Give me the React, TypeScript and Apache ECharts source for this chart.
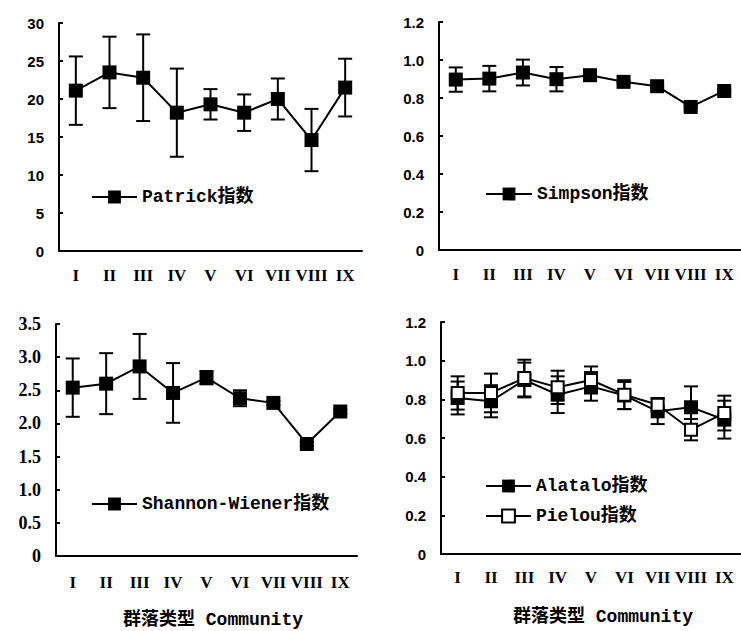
import React, { useEffect, useRef } from "react";
import * as echarts from "echarts";

const categories = ["I", "II", "III", "IV", "V", "VI", "VII", "VIII", "IX"];

const patrickMean = [21.1, 23.5, 22.8, 18.2, 19.3, 18.2, 20.0, 14.6, 21.5];
const patrickSD = [4.5, 4.7, 5.7, 5.8, 2.0, 2.4, 2.7, 4.1, 3.8];

const simpsonMean = [0.897, 0.902, 0.934, 0.899, 0.92, 0.885, 0.862, 0.753, 0.837];
const simpsonSD = [0.064, 0.067, 0.068, 0.064, 0.012, 0.008, 0.006, 0.008, 0.008];

const shannonMean = [2.54, 2.6, 2.86, 2.46, 2.69, 2.38, 2.31, 1.69, 2.18];
const shannonSD = [0.44, 0.46, 0.49, 0.45, 0.1, 0.12, 0.03, 0.03, 0.03];

const alataloMean = [0.807, 0.79, 0.9, 0.824, 0.867, 0.82, 0.738, 0.759, 0.695];
const alataloSD = [0.085, 0.083, 0.09, 0.095, 0.074, 0.07, 0.066, 0.108, 0.098];
const pielouMean = [0.833, 0.833, 0.91, 0.862, 0.9, 0.824, 0.772, 0.643, 0.729];
const pielouSD = [0.086, 0.1, 0.095, 0.086, 0.07, 0.075, 0.035, 0.055, 0.09];

const axisTitle = "群落类型 Community";

const MONO = "'Liberation Mono', 'Noto Sans CJK SC', monospace";
const SERIF = "'Liberation Serif', serif";
const SANS = "'Liberation Sans', Arial, sans-serif";

const errData = (mean: number[], sd: number[]) =>
  mean.map((m, i) => [i, m - sd[i], m + sd[i]]);

const renderErr = (params: any, api: any) => {
  const x = api.value(0);
  const lo = api.value(1);
  const hi = api.value(2);
  const pHi = api.coord([x, hi]);
  const pLo = api.coord([x, lo]);
  const cap = 7;
  const style = { stroke: "#000", lineWidth: 2 };
  return {
    type: "group",
    children: [
      { type: "line", shape: { x1: pHi[0], y1: pHi[1], x2: pLo[0], y2: pLo[1] }, style },
      { type: "line", shape: { x1: pHi[0] - cap, y1: pHi[1], x2: pHi[0] + cap, y2: pHi[1] }, style },
      { type: "line", shape: { x1: pLo[0] - cap, y1: pLo[1], x2: pLo[0] + cap, y2: pLo[1] }, style },
    ],
  };
};

const grids = [
  { left: 59, top: 23, width: 303, height: 228 },
  { left: 439, top: 22, width: 306, height: 228 },
  { left: 56, top: 324, width: 301, height: 232 },
  { left: 441, top: 322, width: 308, height: 232 },
];

const makeX = (gridIndex: number, margin: number) => ({
  type: "category",
  gridIndex,
  data: categories,
  boundaryGap: true,
  axisLine: { lineStyle: { color: "#000", width: 2 } },
  axisTick: { inside: true, length: 4, lineStyle: { color: "#000", width: 2 } },
  axisLabel: {
    color: "#000",
    fontFamily: SERIF,
    fontWeight: "bold",
    fontSize: 17,
    margin,
    interval: 0,
  },
  splitLine: { show: false },
});

const makeY = (gridIndex: number, max: number, interval: number, digits: number, font: string, size: number) => ({
  type: "value",
  gridIndex,
  min: 0,
  max,
  interval,
  axisLine: { show: true, lineStyle: { color: "#000", width: 2 } },
  axisTick: { show: true, inside: true, length: 4, lineStyle: { color: "#000", width: 2 } },
  axisLabel: {
    color: "#000",
    fontFamily: font,
    fontWeight: "bold",
    fontSize: size,
    margin: 15,
    formatter: (v: number) => (v === 0 ? "0" : v.toFixed(digits)),
  },
  splitLine: { show: false },
});

const lineSeries = (name: string, data: number[], idx: number, hollow = false) => ({
  type: "line",
  name,
  xAxisIndex: idx,
  yAxisIndex: idx,
  data,
  symbol: "rect",
  symbolSize: hollow ? 12 : 14,
  showSymbol: true,
  lineStyle: { color: "#000", width: 2 },
  itemStyle: hollow
    ? { color: "#fff", borderColor: "#000", borderWidth: 2 }
    : { color: "#000", borderColor: "#000", borderWidth: 0 },
  z: 3,
});

const errSeries = (mean: number[], sd: number[], idx: number) => ({
  type: "custom",
  xAxisIndex: idx,
  yAxisIndex: idx,
  data: errData(mean, sd),
  encode: { x: 0, y: [1, 2] },
  renderItem: renderErr,
  z: 2,
  silent: true,
});

const legendText = {
  color: "#000",
  fontFamily: MONO,
  fontWeight: "bold",
  fontSize: 18,
};

export default function App() {
  const ref = useRef<HTMLDivElement>(null);
  useEffect(() => {
    if (!ref.current) return;
    const chart = echarts.init(ref.current, undefined, { renderer: "svg" });
    chart.setOption({
      animation: false,
      backgroundColor: "#fff",
      grid: grids,
      xAxis: [makeX(0, 16), makeX(1, 16), makeX(2, 18), makeX(3, 15)],
      yAxis: [
        makeY(0, 30, 5, 0, SANS, 15),
        makeY(1, 1.2, 0.2, 1, SANS, 15),
        makeY(2, 3.5, 0.5, 1, SERIF, 18),
        makeY(3, 1.2, 0.2, 1, SANS, 15),
      ],
      title: [
        {
          text: axisTitle,
          left: 213,
          top: 610,
          padding: 0,
          textAlign: "center",
          textStyle: { ...legendText, fontSize: 18, lineHeight: 20 },
        },
        {
          text: axisTitle,
          left: 603,
          top: 607,
          padding: 0,
          textAlign: "center",
          textStyle: { ...legendText, fontSize: 18, lineHeight: 20 },
        },
      ],
      legend: [
        {
          data: ["Patrick指数"],
          left: 86,
          top: 183,
          itemWidth: 45,
          itemHeight: 16,
          selectedMode: false,
          textStyle: legendText,
        },
        {
          data: ["Simpson指数"],
          left: 480,
          top: 180,
          itemWidth: 46,
          itemHeight: 16,
          selectedMode: false,
          textStyle: legendText,
        },
        {
          data: ["Shannon-Wiener指数"],
          left: 86,
          top: 490,
          itemWidth: 45,
          itemHeight: 16,
          selectedMode: false,
          textStyle: legendText,
        },
        {
          data: ["Alatalo指数", "Pielou指数"],
          left: 480,
          top: 472,
          orient: "vertical",
          itemWidth: 45,
          itemHeight: 16,
          itemGap: 12,
          selectedMode: false,
          textStyle: legendText,
        },
      ],
      series: [
        errSeries(patrickMean, patrickSD, 0),
        lineSeries("Patrick指数", patrickMean, 0),
        errSeries(simpsonMean, simpsonSD, 1),
        lineSeries("Simpson指数", simpsonMean, 1),
        errSeries(shannonMean, shannonSD, 2),
        lineSeries("Shannon-Wiener指数", shannonMean, 2),
        errSeries(alataloMean, alataloSD, 3),
        errSeries(pielouMean, pielouSD, 3),
        lineSeries("Alatalo指数", alataloMean, 3),
        lineSeries("Pielou指数", pielouMean, 3, true),
      ],
    });
    return () => chart.dispose();
  }, []);
  return <div ref={ref} style={{ width: 741, height: 631, position: "absolute", left: 0, top: 0 }} />;
}
